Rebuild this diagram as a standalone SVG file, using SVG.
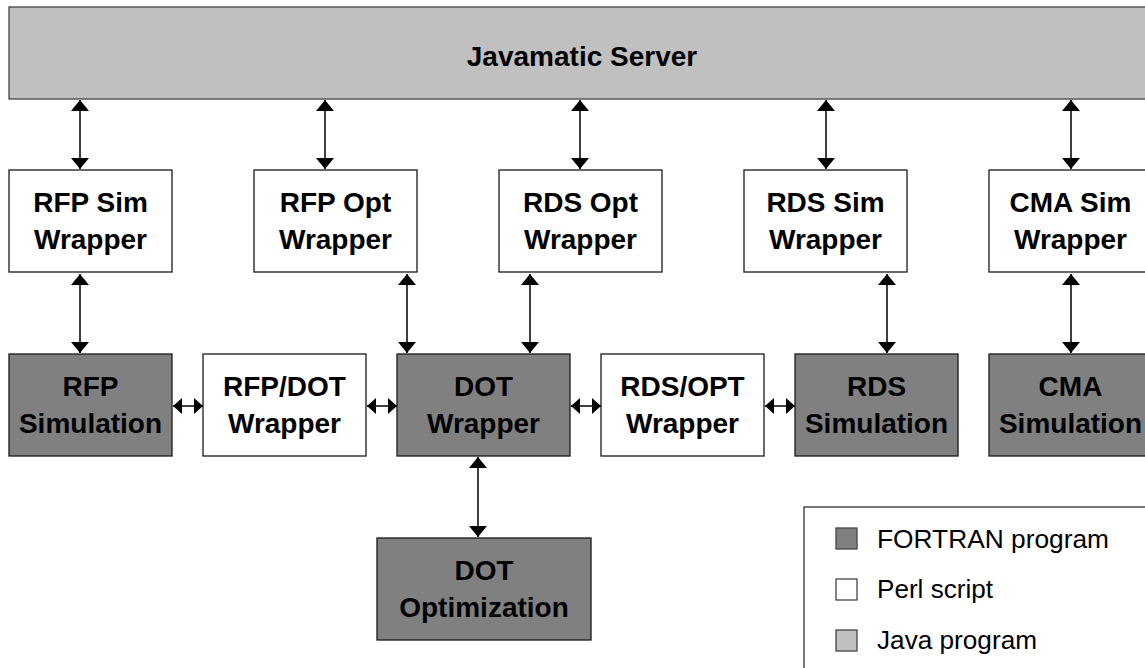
<svg xmlns="http://www.w3.org/2000/svg" width="1145" height="668" viewBox="0 0 1145 668">
<style>
.box{stroke:#1a1a1a;stroke-width:1.3}
.perl{fill:#ffffff}
.fort{fill:#808080}
.java{fill:#c0c0c0}
.lbl{font-family:"Liberation Sans",Arial,sans-serif;font-weight:bold;font-size:28px;fill:#000;text-anchor:middle}
.leg{font-family:"Liberation Sans",Arial,sans-serif;font-size:25px;fill:#000}
.con{stroke:#000;stroke-width:1.5;fill:none}
.v{marker-start:url(#av);marker-end:url(#av)}
.h{marker-start:url(#ah);marker-end:url(#ah)}
</style>
<defs>
<marker id="av" viewBox="0 0 11 18" refX="11" refY="9" markerWidth="11" markerHeight="18" markerUnits="userSpaceOnUse" orient="auto-start-reverse"><path d="M0,0 L11,9 L0,18 z" fill="#000"/></marker>
<marker id="ah" viewBox="0 0 9 16" refX="9" refY="8" markerWidth="9" markerHeight="16" markerUnits="userSpaceOnUse" orient="auto-start-reverse"><path d="M0,0 L9,8 L0,16 z" fill="#000"/></marker>
</defs>
<rect width="1145" height="668" fill="#fff"/>
<g id="server"><rect class="box java" x="9" y="7" width="1200" height="92" style="stroke:#444"/><text class="lbl" x="582" y="66">Javamatic Server</text></g>
<g id="rfpsimw"><rect class="box perl" x="9" y="170" width="163" height="102"/><text class="lbl" x="90.5" y="212">RFP Sim</text><text class="lbl" x="90.5" y="249">Wrapper</text></g>
<g id="rfpoptw"><rect class="box perl" x="254" y="170" width="163" height="102"/><text class="lbl" x="335.5" y="212">RFP Opt</text><text class="lbl" x="335.5" y="249">Wrapper</text></g>
<g id="rdsoptw"><rect class="box perl" x="499" y="170" width="163" height="102"/><text class="lbl" x="580.5" y="212">RDS Opt</text><text class="lbl" x="580.5" y="249">Wrapper</text></g>
<g id="rdssimw"><rect class="box perl" x="744" y="170" width="163" height="102"/><text class="lbl" x="825.5" y="212">RDS Sim</text><text class="lbl" x="825.5" y="249">Wrapper</text></g>
<g id="cmasimw"><rect class="box perl" x="989" y="170" width="163" height="102"/><text class="lbl" x="1070.5" y="212">CMA Sim</text><text class="lbl" x="1070.5" y="249">Wrapper</text></g>
<g id="rfpsim"><rect class="box fort" x="9" y="354" width="163" height="102"/><text class="lbl" x="90.5" y="396">RFP</text><text class="lbl" x="90.5" y="433">Simulation</text></g>
<g id="rfpdotw"><rect class="box perl" x="203" y="354" width="163" height="102"/><text class="lbl" x="284.5" y="396">RFP/DOT</text><text class="lbl" x="284.5" y="433">Wrapper</text></g>
<g id="dotw"><rect class="box fort" x="397" y="354" width="173" height="102"/><text class="lbl" x="483.5" y="396">DOT</text><text class="lbl" x="483.5" y="433">Wrapper</text></g>
<g id="rdsoptw2"><rect class="box perl" x="601" y="354" width="163" height="102"/><text class="lbl" x="682.5" y="396">RDS/OPT</text><text class="lbl" x="682.5" y="433">Wrapper</text></g>
<g id="rdssim"><rect class="box fort" x="795" y="354" width="163" height="102"/><text class="lbl" x="876.5" y="396">RDS</text><text class="lbl" x="876.5" y="433">Simulation</text></g>
<g id="cmasim"><rect class="box fort" x="989" y="354" width="163" height="102"/><text class="lbl" x="1070.5" y="396">CMA</text><text class="lbl" x="1070.5" y="433">Simulation</text></g>
<g id="dotopt"><rect class="box fort" x="377" y="538" width="214" height="102"/><text class="lbl" x="484" y="580">DOT</text><text class="lbl" x="484" y="617">Optimization</text></g>
<g id="connectors">
<line class="con v" x1="80" y1="100" x2="80" y2="169"/>
<line class="con v" x1="325" y1="100" x2="325" y2="169"/>
<line class="con v" x1="580" y1="100" x2="580" y2="169"/>
<line class="con v" x1="826" y1="100" x2="826" y2="169"/>
<line class="con v" x1="1071" y1="100" x2="1071" y2="169"/>
<line class="con v" x1="80" y1="274" x2="80" y2="353"/>
<line class="con v" x1="407" y1="274" x2="407" y2="353"/>
<line class="con v" x1="530" y1="274" x2="530" y2="353"/>
<line class="con v" x1="887" y1="274" x2="887" y2="353"/>
<line class="con v" x1="1071" y1="274" x2="1071" y2="353"/>
<line class="con v" x1="478" y1="457" x2="478" y2="537"/>
<line class="con h" x1="173" y1="406" x2="203" y2="406"/>
<line class="con h" x1="367" y1="406" x2="397" y2="406"/>
<line class="con h" x1="571" y1="406" x2="601" y2="406"/>
<line class="con h" x1="765" y1="406" x2="795" y2="406"/>
</g>
<g id="legend">
<rect x="804" y="507" width="400" height="200" fill="#fff" stroke="#333" stroke-width="1.3"/>
<rect class="box fort" x="836" y="528" width="21" height="21" style="stroke:#444"/>
<text class="leg" x="877" y="548" textLength="232" lengthAdjust="spacingAndGlyphs">FORTRAN program</text>
<rect class="box perl" x="836" y="579" width="21" height="21" style="stroke:#444"/>
<text class="leg" x="877" y="598" textLength="116" lengthAdjust="spacingAndGlyphs">Perl script</text>
<rect class="box java" x="836" y="630" width="21" height="21" style="stroke:#444"/>
<text class="leg" x="877" y="649" textLength="160" lengthAdjust="spacingAndGlyphs">Java program</text>
</g>
</svg>
